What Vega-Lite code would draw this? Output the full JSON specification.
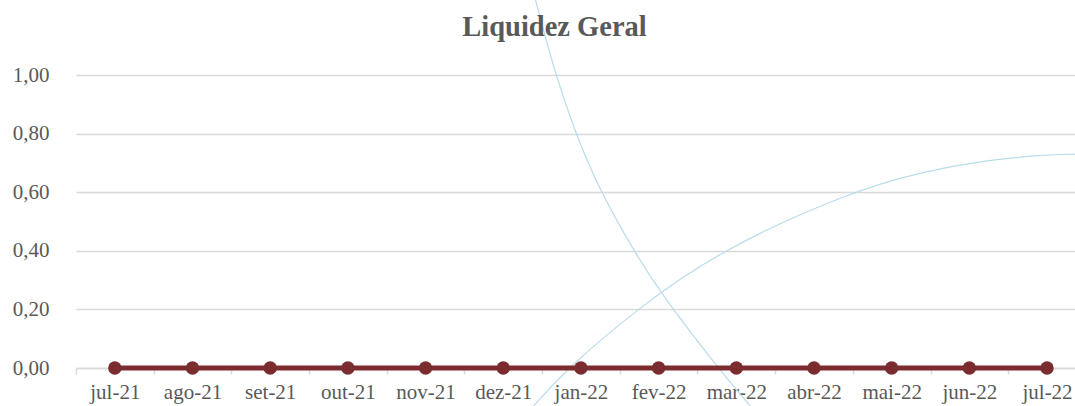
{
  "$schema": "https://vega.github.io/schema/vega-lite/v6.json",
  "autosize": "none",
  "padding": {"left": 76, "top": 75, "right": 0, "bottom": 38},
  "width": 999,
  "height": 293,
  "background": "white",
  "config": {
    "view": {"stroke": null},
    "font": "Liberation Serif"
  },
  "title": {
    "text": "Liquidez Geral",
    "font": "Liberation Serif",
    "fontSize": 28.5,
    "fontWeight": "bold",
    "color": "#595959",
    "anchor": "middle",
    "frame": "group",
    "dx": -21,
    "baseline": "alphabetic",
    "offset": -67
  },
  "datasets": {
    "serie": [
      {"mes": "jul-21", "i": 0, "valor": 0},
      {"mes": "ago-21", "i": 1, "valor": 0},
      {"mes": "set-21", "i": 2, "valor": 0},
      {"mes": "out-21", "i": 3, "valor": 0},
      {"mes": "nov-21", "i": 4, "valor": 0},
      {"mes": "dez-21", "i": 5, "valor": 0},
      {"mes": "jan-22", "i": 6, "valor": 0},
      {"mes": "fev-22", "i": 7, "valor": 0},
      {"mes": "mar-22", "i": 8, "valor": 0},
      {"mes": "abr-22", "i": 9, "valor": 0},
      {"mes": "mai-22", "i": 10, "valor": 0},
      {"mes": "jun-22", "i": 11, "valor": 0},
      {"mes": "jul-22", "i": 12, "valor": 0}
    ],
    "curvas": [
      {"curva": "A", "t": 5.415, "v": 1.256},
      {"curva": "A", "t": 5.672, "v": 1.0},
      {"curva": "A", "t": 5.929, "v": 0.802},
      {"curva": "A", "t": 6.251, "v": 0.601},
      {"curva": "A", "t": 6.675, "v": 0.403},
      {"curva": "A", "t": 7.023, "v": 0.256},
      {"curva": "A", "t": 7.756, "v": 0.003},
      {"curva": "A", "t": 8.18, "v": -0.13},
      {"curva": "B", "t": 5.389, "v": -0.13},
      {"curva": "B", "t": 5.839, "v": 0.003},
      {"curva": "B", "t": 6.74, "v": 0.205},
      {"curva": "B", "t": 7.794, "v": 0.403},
      {"curva": "B", "t": 9.466, "v": 0.601},
      {"curva": "B", "t": 10.367, "v": 0.669},
      {"curva": "B", "t": 11.228, "v": 0.71},
      {"curva": "B", "t": 11.949, "v": 0.727},
      {"curva": "B", "t": 12.36, "v": 0.73}
    ]
  },
  "resolve": {"scale": {"x": "independent"}, "axis": {"x": "independent"}},
  "layer": [
    {
      "data": {"name": "curvas"},
      "mark": {"type": "line", "interpolate": "basis", "color": "#b9dce9", "strokeWidth": 1.2},
      "encoding": {
        "x": {
          "field": "t", "type": "quantitative",
          "scale": {"domain": [-0.5, 12.36], "nice": false, "zero": false},
          "axis": {
            "orient": "bottom",
            "values": [-0.5, 0.5, 1.5, 2.5, 3.5, 4.5, 5.5, 6.5, 7.5, 8.5, 9.5, 10.5, 11.5],
            "labels": false, "domain": false, "grid": false,
            "ticks": true, "tickColor": "#d9d9d9", "tickSize": 6, "tickWidth": 1.5,
            "title": null
          }
        },
        "y": {
          "field": "v", "type": "quantitative",
          "scale": {"domain": [0, 1], "nice": false, "zero": false},
          "axis": {
            "values": [0, 0.2, 0.4, 0.6, 0.8, 1.0],
            "labelExpr": "replace(format(datum.value, '.2f'), '.', ',')",
            "domain": false, "ticks": false,
            "grid": true, "gridColor": "#d9d9d9", "gridWidth": 1.5,
            "labelFont": "Liberation Serif", "labelFontSize": 21, "labelColor": "#595959",
            "labelPadding": 27,
            "title": null
          }
        },
        "detail": {"field": "curva"}
      }
    },
    {
      "data": {"name": "serie"},
      "mark": {
        "type": "line", "color": "#7b2c2f", "strokeWidth": 5,
        "point": {"filled": true, "size": 180, "color": "#7b2c2f", "opacity": 1}
      },
      "encoding": {
        "x": {
          "field": "i", "type": "quantitative",
          "scale": {"domain": [-0.5, 12.36], "nice": false, "zero": false},
          "axis": {
            "orient": "bottom",
            "values": [0, 1, 2, 3, 4, 5, 6, 7, 8, 9, 10, 11, 12],
            "labelExpr": "['jul-21','ago-21','set-21','out-21','nov-21','dez-21','jan-22','fev-22','mar-22','abr-22','mai-22','jun-22','jul-22'][datum.value]",
            "ticks": false, "grid": false,
            "domain": true, "domainColor": "#d9d9d9", "domainWidth": 1.5,
            "labelFont": "Liberation Serif", "labelFontSize": 21, "labelColor": "#595959",
            "labelPadding": 13, "labelOverlap": false, "labelFlush": false,
            "title": null
          }
        },
        "y": {"field": "valor", "type": "quantitative"}
      }
    }
  ]
}
